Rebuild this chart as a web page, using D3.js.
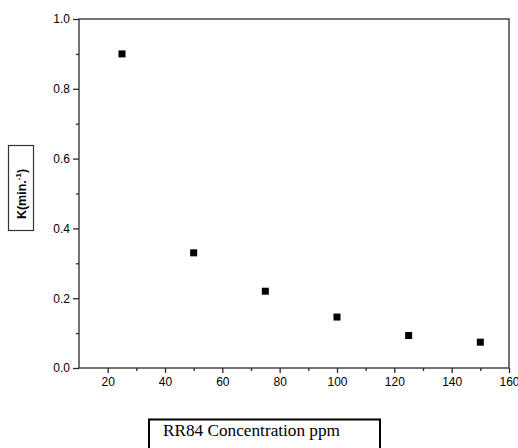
<!DOCTYPE html>
<html><head><meta charset="utf-8">
<script src="https://cdn.jsdelivr.net/npm/d3@7"></script>
<style>body{margin:0;background:#fff}svg{display:block}</style>
</head><body>
<svg id="c" width="518" height="448"></svg>
<script>
const concentrations = [25, 50, 75, 100, 125, 150];
const kValues = [0.90, 0.33, 0.22, 0.146, 0.093, 0.074];
const xTickValues = [20, 40, 60, 80, 100, 120, 140, 160];
const yTickValues = [0.0, 0.2, 0.4, 0.6, 0.8, 1.0];
const xLabel = "RR84 Concentration ppm";
const yLabel = "K(min.";

const svg = d3.select("#c");
const L = 79, R = 509, T = 19, B = 368;
const x = d3.scaleLinear().domain([10, 160]).range([L, R]);
const y = d3.scaleLinear().domain([0, 1]).range([B, T]);
const axisColor = "#2a2a2a";

// frame
svg.append("rect").attr("x", L).attr("y", T).attr("width", R - L).attr("height", B - T)
  .attr("fill", "none").attr("stroke", axisColor).attr("stroke-width", 1.3);

// axes: major + minor ticks
const xAx = svg.append("g").attr("transform", `translate(0,${B})`)
  .call(d3.axisBottom(x).tickValues(xTickValues).tickSize(5).tickPadding(4).tickFormat(d3.format("d")));
const xMin = svg.append("g").attr("transform", `translate(0,${B})`)
  .call(d3.axisBottom(x).tickValues(d3.range(30, 160, 20)).tickSize(3).tickFormat(""));
const yAx = svg.append("g").attr("transform", `translate(${L},0)`)
  .call(d3.axisLeft(y).tickValues(yTickValues).tickSize(6).tickPadding(3).tickFormat(d3.format(".1f")));
const yMin = svg.append("g").attr("transform", `translate(${L},0)`)
  .call(d3.axisLeft(y).tickValues([0.1, 0.3, 0.5, 0.7, 0.9]).tickSize(3).tickFormat(""));
[xAx, xMin, yAx, yMin].forEach(g => {
  g.select(".domain").remove();
  g.selectAll("line").attr("stroke", axisColor).attr("stroke-width", 1.3);
  g.selectAll("text").attr("fill", "#000").attr("font-family", "'Liberation Sans', Arial, sans-serif").attr("font-size", 12);
});

// points
svg.append("g").selectAll("rect").data(concentrations).join("rect")
  .attr("x", (d) => x(d) - 3.5).attr("y", (d, i) => y(kValues[i]) - 3.5)
  .attr("width", 7).attr("height", 7).attr("fill", "#000");

// y label box
svg.append("rect").attr("x", 8.5).attr("y", 145.5).attr("width", 25).attr("height", 85)
  .attr("fill", "none").attr("stroke", "#333").attr("stroke-width", 1.2);
const yt = svg.append("text").attr("transform", "translate(25.5,194) rotate(-90)")
  .attr("text-anchor", "middle").attr("font-family", "'Liberation Sans', Arial, sans-serif")
  .attr("font-size", 12.5).attr("font-weight", "bold").attr("fill", "#000");
yt.append("tspan").text(yLabel);
yt.append("tspan").attr("dy", -5).attr("font-size", 8).text("-1");
yt.append("tspan").attr("dy", 5).text(")");

// x label box
svg.append("rect").attr("x", 149).attr("y", 419.5).attr("width", 231).attr("height", 40)
  .attr("fill", "none").attr("stroke", "#000").attr("stroke-width", 2);
svg.append("text").attr("x", 163).attr("y", 436)
  .attr("font-family", "'Liberation Serif', 'Times New Roman', serif").attr("font-size", 16)
  .attr("textLength", 177).attr("lengthAdjust", "spacingAndGlyphs")
  .attr("fill", "#000").text(xLabel);
</script>
</body></html>
